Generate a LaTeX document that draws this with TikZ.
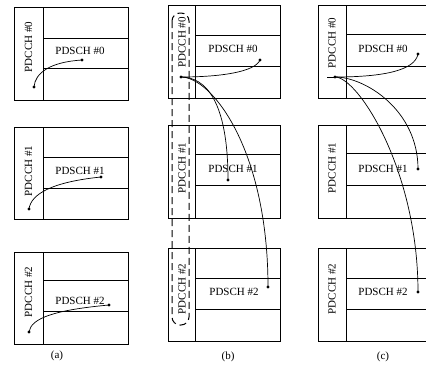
\documentclass[tikz,border=0pt]{standalone}
\usepackage{fontspec}
\setmainfont{Liberation Serif}
\begin{document}
\begin{tikzpicture}[x=1pt,y=-1pt,
  frame/.style={line width=1pt},
  link/.style={line width=0.7pt},
  lbl/.style={font=\fontsize{11}{13}\selectfont, inner sep=0pt},
  vlbl/.style={lbl, rotate=90},
  dot/.style={circle, fill=black, inner sep=0pt, minimum size=3.4pt},
  dsh/.style={line width=1pt, dash pattern=on 7pt off 4pt, rounded corners=8pt}]
\useasboundingbox (0,0) rectangle (426,365);

% ---------- panel (a) ----------
\foreach \t/\b/\la/\lb in {7/100/38/68, 127/219/157/188, 252/344/280/311}{
  \draw[frame] (14,\t) rectangle (128,\b);
  \draw[frame] (43,\t) -- (43,\b);
  \draw[frame] (43,\la) -- (128,\la);
  \draw[frame] (43,\lb) -- (128,\lb);
}
\node[vlbl] (a0c) at (28.5,47) {PDCCH \#0};
\node[vlbl] (a1c) at (28.5,171) {PDCCH \#1};
\node[vlbl] (a2c) at (28.5,292) {PDCCH \#2};
\node[lbl] (a0s) at (80,51) {PDSCH \#0};
\node[lbl] (a1s) at (80,171) {PDSCH \#1};
\node[lbl] (a2s) at (80,301) {PDSCH \#2};
\node[dot] (a0p) at (34,87) {};
\node[dot] (a0q) at (82,60) {};
\node[dot] (a1p) at (29,209) {};
\node[dot] (a1q) at (101,177) {};
\node[dot] (a2p) at (29,332) {};
\node[dot] (a2q) at (109,305) {};
\draw[link] (a0p.center) .. controls (35,73) and (50,62) .. (a0q.center);
\draw[link] (a1p.center) .. controls (31,194) and (52,182) .. (a1q.center);
\draw[link] (a2p.center) .. controls (31,318) and (55,310) .. (a2q.center);
\node[lbl] (la) at (57,356) {(a)};

% ---------- panel (b) ----------
\foreach \t/\b/\la/\lb in {5/98/35/66, 125/218/154/185, 248/341/278/309}{
  \draw[frame] (168,\t) rectangle (280,\b);
  \draw[frame] (195,\t) -- (195,\b);
  \draw[frame] (195,\la) -- (280,\la);
  \draw[frame] (195,\lb) -- (280,\lb);
}
\draw[dsh] (172,13) rectangle (189,325);
\node[vlbl] (b0c) at (182,42.5) {PDCCH \#0};
\node[vlbl] (b1c) at (182,168) {PDCCH \#1};
\node[vlbl] (b2c) at (182,289) {PDCCH \#2};
\node[lbl] (b0s) at (233,49) {PDSCH \#0};
\node[lbl] (b1s) at (233,169) {PDSCH \#1};
\node[lbl] (b2s) at (234,292) {PDSCH \#2};
\node[dot] (bp) at (181,77) {};
\node[dot] (b0q) at (260,60) {};
\node[dot] (b1q) at (228,180) {};
\node[dot] (b2q) at (268,287) {};
\draw[link] (bp.center) .. controls (220,77) and (255,72) .. (b0q.center);
\draw[link] (bp.center) .. controls (205,77) and (228,100) .. (b1q.center);
\draw[link] (bp.center) .. controls (212,77) and (268,150) .. (b2q.center);
\node[lbl] (lb) at (228,357) {(b)};

% ---------- panel (c) ----------
\foreach \t/\b/\la/\lb in {5/98/34/66, 125/218/153/185, 248/341/278/309}{
  \draw[frame] (426,\t) -- (318,\t) -- (318,\b) -- (426,\b);
  \draw[frame] (346,\t) -- (346,\b);
  \draw[frame] (346,\la) -- (426,\la);
  \draw[frame] (346,\lb) -- (426,\lb);
}
\node[vlbl] (c0c) at (332,43) {PDCCH \#0};
\node[vlbl] (c1c) at (332,168) {PDCCH \#1};
\node[vlbl] (c2c) at (332,289) {PDCCH \#2};
\node[lbl] (c0s) at (383,49) {PDSCH \#0};
\node[lbl] (c1s) at (383,169) {PDSCH \#1};
\node[lbl] (c2s) at (383,292) {PDSCH \#2};
\coordinate (cs) at (327,77);
\node[dot] (cp) at (335,77) {};
\node[dot] (c0q) at (418,54) {};
\node[dot] (c1q) at (418,169) {};
\node[dot] (c2q) at (418,292) {};
\draw[link] (cs) -- (cp.center);
\draw[link] (cp.center) .. controls (385,77) and (415,70) .. (c0q.center);
\draw[link] (cp.center) .. controls (365,77) and (418,110) .. (c1q.center);
\draw[link] (cp.center) .. controls (358,77) and (418,170) .. (c2q.center);
\node[lbl] (lc) at (383,357) {(c)};
\end{tikzpicture}
\end{document}
